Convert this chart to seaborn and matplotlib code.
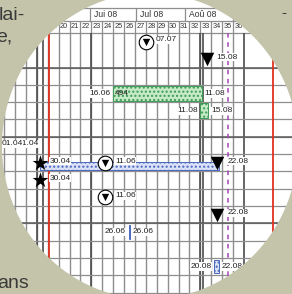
import numpy as np
import pandas as pd
import matplotlib
matplotlib.use("Agg")
import matplotlib.pyplot as plt
import seaborn as sns
from matplotlib.path import Path
from matplotlib.patches import PathPatch

sns.set_style("white")
plt.rcParams['font.family'] = ['Liberation Sans', 'DejaVu Sans']

ORIGIN = pd.Timestamp("2008-05-19")   # monday of week 21


def day(s):
    return (pd.to_datetime(s + ".2008", format="%d.%m.%Y") - ORIGIN).days


# header
week_numbers = list(range(15, 37))
month_names = ["Mai 08", "Jui 08", "Jul 08", "Aoû 08", "Sep 08"]
month_starts = ["01.05", "01.06", "01.07", "01.08", "01.09"]

# task bars
bar_rows = [3, 4, 7, 11, 13]
bar_starts = ["16.06", "11.08", "30.04", "26.06", "20.08"]
bar_ends = ["11.08", "15.08", "22.08", "26.06", "22.08"]
bar_kinds = ["green", "green", "thin", "blue", "blue"]
bar_notes = ["494", "", "", "", ""]
bar_labelled = [True, True, False, True, True]

# milestones
ms_rows = [0, 1, 7, 7, 7, 8, 9, 10]
ms_dates = ["07.07", "15.08", "30.04", "11.06", "22.08", "30.04", "11.06", "22.08"]
ms_kinds = ["ring", "solid", "star", "ring", "solid", "star", "ring", "solid"]

# loose date labels
note_rows = [6, 6]
note_texts = ["01.04", "01.04"]
note_dates = ["19.04", "16.04"]

# reference lines
red_dates = ["06.05", "27.09"]
today = "29.08"
dark_dates = ["28.04", "02.05", "02.06", "11.08", "13.08", "08.09"]
dark_rows = [1.5, 5.5, 10.5]

OLIVE = "#c3c4aa"
GRID = "#8e8e8e"
styles = {
    "green": dict(h=0.88, dy=0.0, face="#c4eac6", edge="#3f9a55"),
    "blue": dict(h=0.8, dy=0.0, face="#dbe2f5", edge="#4a68c0"),
    "thin": dict(h=0.46, dy=0.2, face="#dbe2f5", edge="#4a68c0"),
}
lab = dict(fontsize=6, color="#222222", textcoords="offset points", va="center",
           bbox=dict(facecolor="white", edgecolor="none", pad=0.4))

# x: days since 19.05.2008, 10.9 px per week, week 21 starts at px 69.5
x_lo = (0 - 69.5) * 7 / 10.9
x_hi = (292 - 69.5) * 7 / 10.9
# y: rows of 17.3 px, first row starts at px 33
y_top = (0 - 33) / 17.3 - 0.5
y_bot = (294 - 33) / 17.3 - 0.5
wk_top, wk_bot = (21 - 33) / 17.3 - 0.5, -0.5
mo_top = (8 - 33) / 17.3 - 0.5

fig = plt.figure(figsize=(2.92, 2.94), dpi=100)
fig.patch.set_facecolor("white")
ax = fig.add_axes([0, 0, 1, 1])
ax.set_xlim(x_lo, x_hi)
ax.set_ylim(y_bot, y_top)
ax.set_axis_off()

# header
week_start = np.array([7 * (w - 21) for w in week_numbers])
ax.hlines([mo_top, wk_top, wk_bot], x_lo, x_hi, colors=GRID, lw=0.9, zorder=1)
ax.vlines(week_start, wk_top, wk_bot, colors=GRID, lw=0.9, zorder=1)
ax.vlines([day(m) for m in month_starts], mo_top, wk_top, colors=GRID, lw=0.9, zorder=1)
for w, s in zip(week_numbers, week_start):
    ax.text(s + 3.5, (wk_top + wk_bot) / 2, str(w), fontsize=5.3, color="#333333",
            ha="center", va="center")
for name, m in zip(month_names, month_starts):
    ax.text(day(m) + 2.5, (mo_top + wk_top) / 2, name, fontsize=6.2, color="#333333",
            ha="left", va="center")

# body grid
ax.vlines(week_start, wk_bot, y_bot, colors=GRID, lw=1.0, zorder=1)
ax.vlines([day(d) for d in dark_dates], wk_bot, y_bot, colors="#4c4c4c", lw=1.2, zorder=1)
rows_b = [r + 0.5 for r in range(1, 15)]
ax.hlines(rows_b, x_lo, x_hi, colors=GRID, lw=0.9, zorder=1)
ax.hlines(dark_rows, x_lo, x_hi, colors="#5a5a5a", lw=1.1, zorder=1)
ax.vlines([day(d) for d in red_dates], wk_bot, y_bot, colors="#e0301e", lw=1.3, zorder=2)
ax.vlines(day(today), wk_bot, y_bot, colors="#a444b4", lw=1.1,
          linestyles=(0, (3, 3)), zorder=2)

# bars
for r, s, e, k, note, lbl in zip(bar_rows, bar_starts, bar_ends, bar_kinds,
                                  bar_notes, bar_labelled):
    st = styles[k]
    x0, x1 = day(s), day(e) + 1
    ax.barh(r + st["dy"], x1 - x0, left=x0, height=st["h"], color=st["face"],
            edgecolor=st["edge"], hatch="....", lw=0.7, zorder=3)
    if note:
        ax.annotate(note, (x0, r), xytext=(1.5, 0), textcoords="offset points",
                    fontsize=6, va="center", ha="left", color="#222222", zorder=4)
    if lbl:
        ax.annotate(s, (x0, r), xytext=(-2, 0), ha="right", zorder=4, **lab)
        ax.annotate(e, (x1, r), xytext=(2, 0), ha="left", zorder=4, **lab)

# milestones
ms = pd.DataFrame({"row": ms_rows, "day": [day(d) for d in ms_dates],
                   "kind": ms_kinds, "label": ms_dates})
sns.scatterplot(data=ms[ms.kind == "solid"], x="day", y="row", marker="v", s=95,
                color="black", linewidth=0, ax=ax, zorder=6, legend=False)
sns.scatterplot(data=ms[ms.kind == "ring"], x="day", y="row", marker="o", s=110,
                color="white", edgecolor="black", linewidth=0.8, ax=ax, zorder=6,
                legend=False)
sns.scatterplot(data=ms[ms.kind == "ring"], x="day", y="row", marker="v", s=28,
                color="black", linewidth=0, ax=ax, zorder=7, legend=False)
sns.scatterplot(data=ms[ms.kind == "star"], x="day", y="row", marker="*", s=140,
                color="black", linewidth=0, ax=ax, zorder=6, legend=False)
for _, m in ms.iterrows():
    ax.annotate(m["label"], (m["day"], m["row"] - 0.1), xytext=(7, 0), ha="left",
                zorder=5, **lab)

# loose labels
for i, (r, t, d) in enumerate(zip(note_rows, note_texts, note_dates)):
    ax.annotate(t, (day(d), r - 0.1), xytext=(0, 0), ha="right" if i == 0 else "left",
                zorder=5 - i, **lab)

# page around the magnifier lens (inches, origin bottom left)
W, H = 2.92, 2.94
cx, cy, rx, ry = 1.50, 1.48, 1.48, 1.53
t = np.linspace(2 * np.pi, 0, 240)
ring = np.column_stack([cx + rx * np.cos(t), cy + ry * np.sin(t)])
outer = np.array([[-0.1, -0.1], [W + 0.1, -0.1], [W + 0.1, H + 0.1], [-0.1, H + 0.1], [-0.1, -0.1]])
verts = np.vstack([outer, ring])
codes = ([Path.MOVETO] + [Path.LINETO] * 3 + [Path.CLOSEPOLY]
         + [Path.MOVETO] + [Path.LINETO] * (len(ring) - 2) + [Path.CLOSEPOLY])
mask = PathPatch(Path(verts, codes), transform=fig.dpi_scale_trans,
                 facecolor=OLIVE, edgecolor="none", zorder=50)
ax.add_artist(mask)

txt = dict(fontsize=14, color="#3a3a3a", va="baseline")
fig.text(-0.004, 1 - 20 / 294, "lai-", **txt)
fig.text(-0.012, 1 - 42 / 294, "e,", **txt)
fig.text(-0.01, 1 - 288 / 294, "ans", **txt)
fig.text(0.962, 1 - 17 / 294, "-", fontsize=11, color="#3a3a3a", va="baseline")

fig.savefig("out.png", dpi=100)
